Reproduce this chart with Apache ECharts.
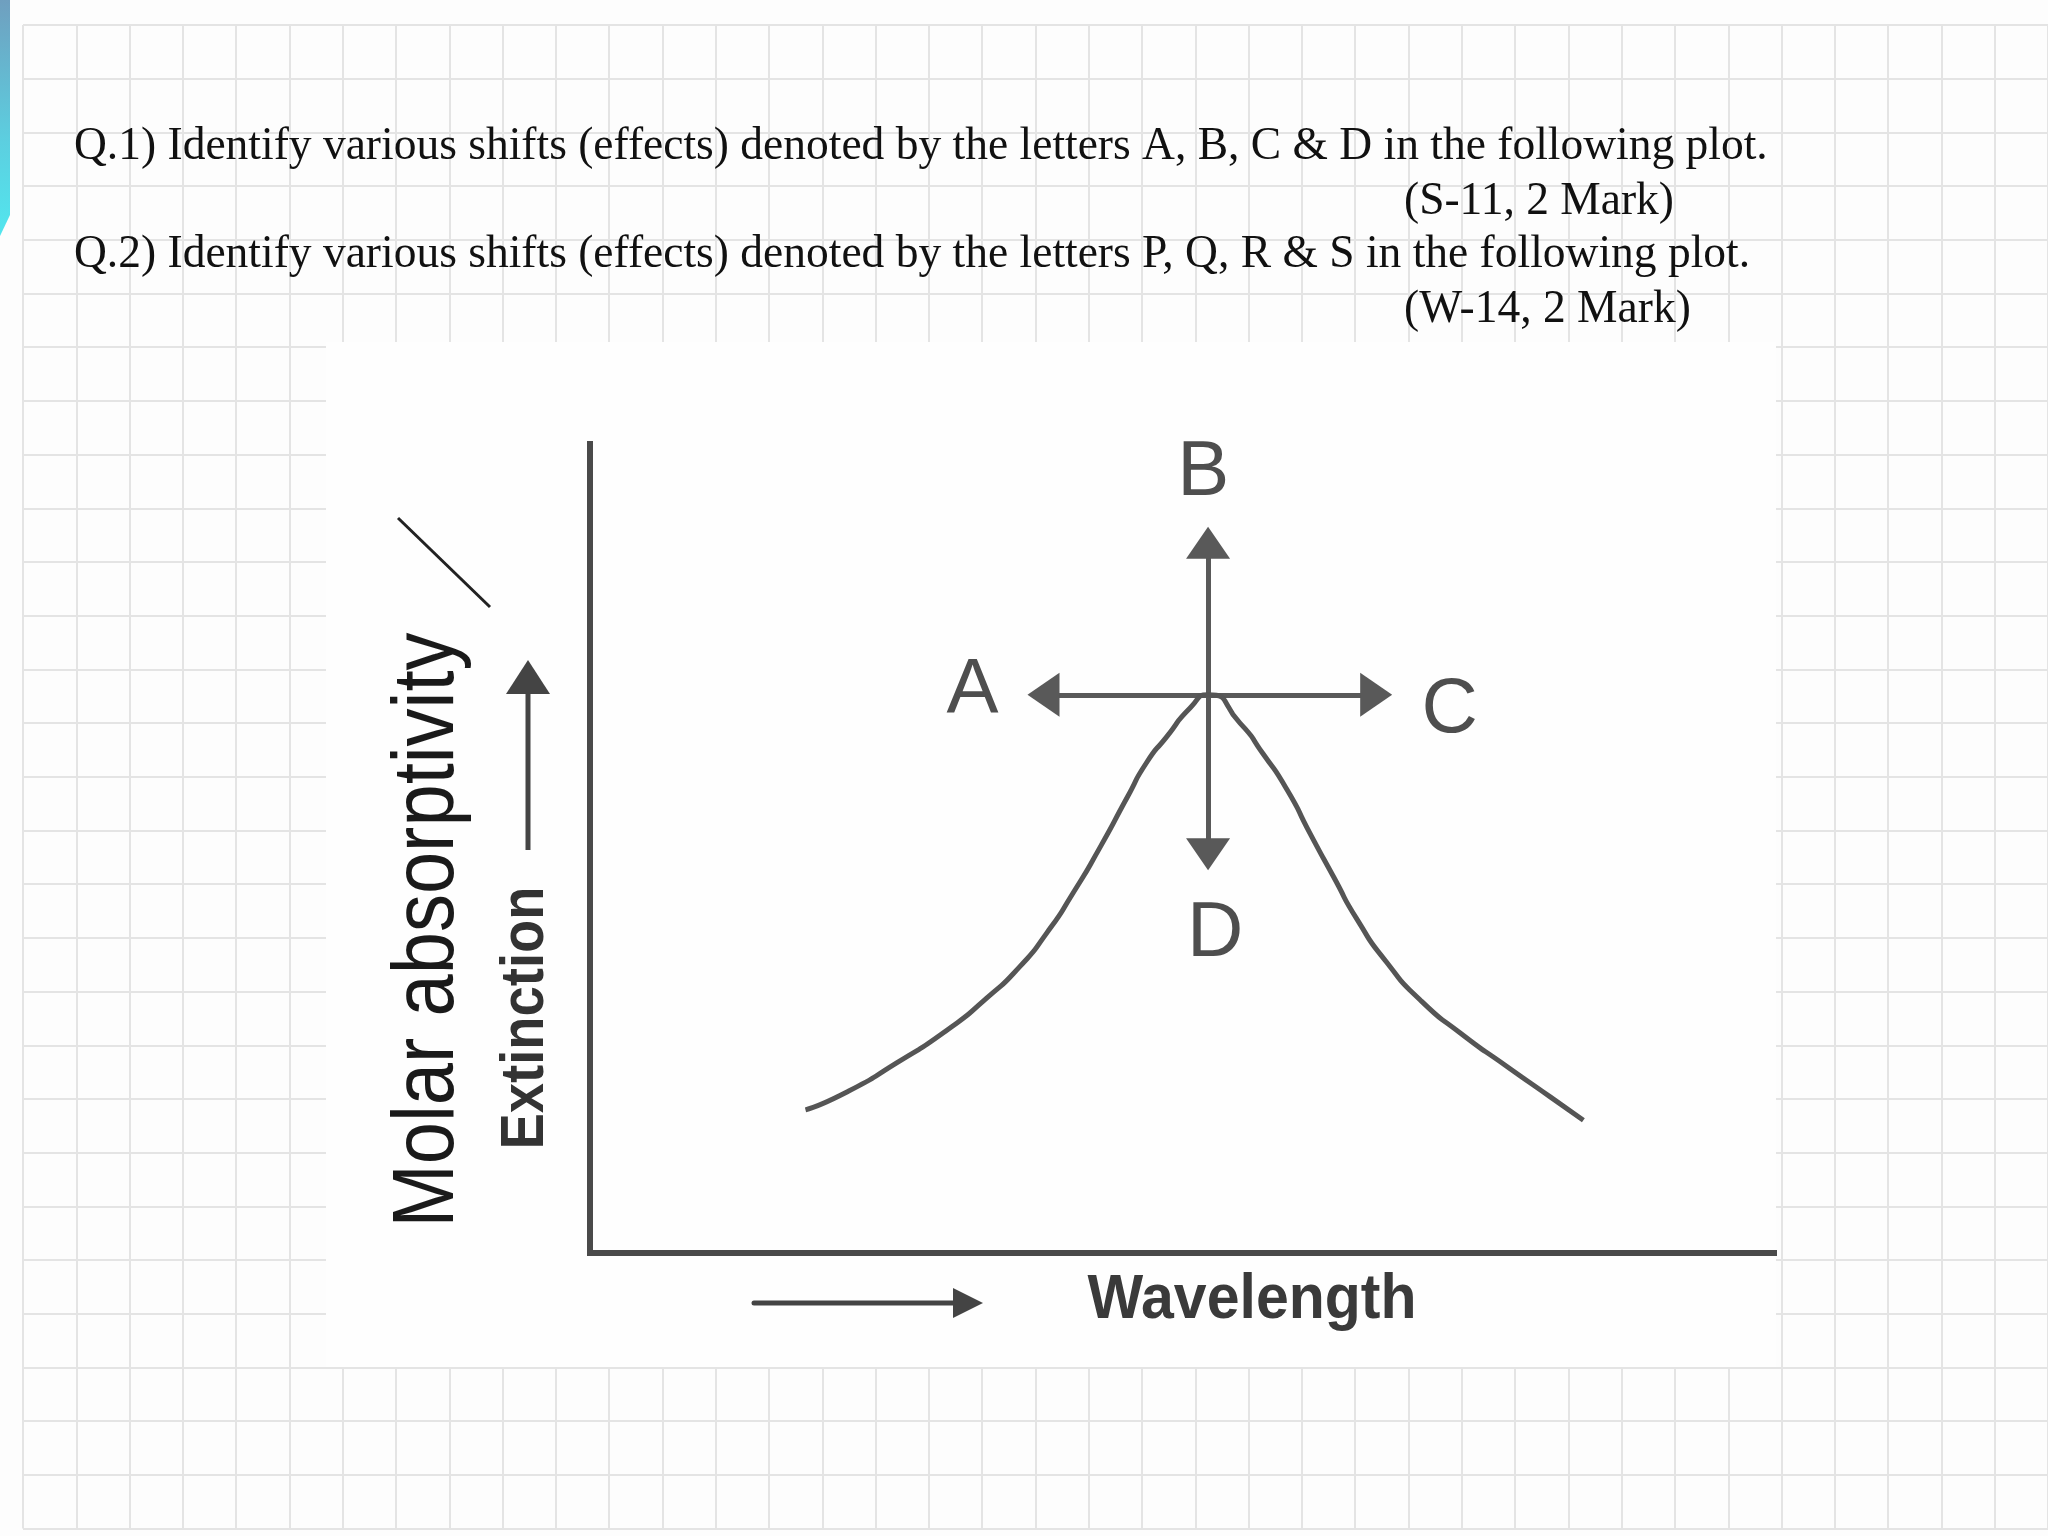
<!DOCTYPE html>
<html><head><meta charset="utf-8">
<script src="https://cdn.jsdelivr.net/npm/echarts@6/dist/echarts.min.js"></script>
<style>html,body{margin:0;padding:0;background:#fdfdfd}#c{width:2048px;height:1536px}</style>
</head><body><div id="c"></div>
<script>
// ---- text content ----
const questionLines = [
  'Q.1) Identify various shifts (effects) denoted by the letters A, B, C & D in the following plot.',
  '(S-11, 2 Mark)',
  'Q.2) Identify various shifts (effects) denoted by the letters P, Q, R & S in the following plot.',
  '(W-14, 2 Mark)'
];
const axisNames = ['Molar absorptivity', 'Extinction', 'Wavelength'];

// ---- absorption band (x: wavelength, y: extinction, arbitrary 0-100 units) ----
const bandX = [18.2, 21.7, 25.9, 30.2, 33.5, 36.3, 38.6, 40.8, 43.1, 45.4, 47.0, 48.7, 50.7, 52.2,
               54.9, 56.8, 58.9, 60.8, 62.8, 64.8, 67.3, 70.1, 73.5, 77.5, 81.1, 83.9];
const bandY = [17.7, 19.9, 23.5, 27.6, 31.5, 35.4, 39.6, 44.5, 50.2, 56.4, 60.6, 63.8, 67.4, 69.0,
               65.5, 61.8, 57.2, 51.9, 46.5, 41.2, 35.9, 31.3, 27.2, 23.0, 19.3, 16.4];

// ---- shift arrows from the band maximum ----
const arrowCenter = [52.2, 69.0];
const arrowEnds = [[52.2, 87.8], [52.2, 49.3], [38.3, 69.0], [66.4, 69.0]];
const shiftLetters = ['A', 'B', 'C', 'D'];
const letterX = [32.3, 51.8, 72.6, 52.8];
const letterY = [69.4, 96.3, 67.1, 39.4];

// ---- build ----
const bandData = bandX.map((x, i) => [x, bandY[i]]);
const letterData = shiftLetters.map((n, i) => ({ name: n, value: [letterX[i], letterY[i]] }));
const arrowLines = arrowEnds.map(e => [{ coord: arrowCenter }, { coord: e }]);

const mctx = document.createElement('canvas').getContext('2d');
function measure(font, text) { mctx.font = font; return mctx.measureText(text).width; }

const serifFont = '45.5px "Liberation Serif", "Times New Roman", serif';
const molarFont = '88px "Liberation Sans", Arial, sans-serif';
const extFont = 'bold 61px "Liberation Sans", Arial, sans-serif';
const waveFont = 'bold 63px "Liberation Sans", Arial, sans-serif';
const molarScale = 595 / measure(molarFont, axisNames[0]);
const extScale = 263 / measure(extFont, axisNames[1]);
const waveScale = 329 / measure(waveFont, axisNames[2]);

function txt(text, x, y, font, fill, align, extra) {
  return Object.assign({
    type: 'text', x: x, y: y, z: 3,
    style: { text: text, font: font, fill: fill, align: align, textAlign: align,
             verticalAlign: 'middle', textVerticalAlign: 'middle' }
  }, extra || {});
}

const qBase = [162, 217, 270, 325];
const qX = [74, 1404, 74, 1404];
const graphics = [
  { type: 'rect', z: 1, shape: { x: 326, y: 342, width: 1450, height: 1025 }, style: { fill: '#fefefe' } },
  { type: 'polygon', z: 1, shape: { points: [[0, 0], [10, 0], [10, 215], [0, 236]] },
    style: { fill: new echarts.graphic.LinearGradient(0, 0, 0, 1, [
      { offset: 0, color: '#6f9fbf' }, { offset: 0.6, color: '#5ccfe0' }, { offset: 1, color: '#52e6ee' }]) } }
];
questionLines.forEach((t, i) => graphics.push(txt(t, qX[i], qBase[i] - 15, serifFont, '#111', 'left')));
graphics.push(txt(axisNames[0], 429, 930, molarFont, '#1a1a1a', 'center', { rotation: Math.PI / 2, scaleX: molarScale }));
graphics.push(txt(axisNames[1], 526, 1018, extFont, '#333', 'center', { rotation: Math.PI / 2, scaleX: extScale }));
graphics.push(txt(axisNames[2], 1252, 1301, waveFont, '#3a3a3a', 'center', { scaleX: waveScale }));
// decorative arrows next to axis names
graphics.push({ type: 'line', z: 3, shape: { x1: 528, y1: 850, x2: 528, y2: 690 }, style: { stroke: '#444', lineWidth: 5 } });
graphics.push({ type: 'polygon', z: 3, shape: { points: [[528, 660], [506, 694], [550, 694]] }, style: { fill: '#444' } });
graphics.push({ type: 'line', z: 3, shape: { x1: 754, y1: 1303, x2: 958, y2: 1303 }, style: { stroke: '#444', lineWidth: 5, lineCap: 'round' } });
graphics.push({ type: 'polygon', z: 3, shape: { points: [[983, 1303], [953, 1288], [953, 1318]] }, style: { fill: '#444' } });
graphics.push({ type: 'line', z: 3, shape: { x1: 398, y1: 518, x2: 490, y2: 607 }, style: { stroke: '#222', lineWidth: 3 } });

const chart = echarts.init(document.getElementById('c'), null, { renderer: 'canvas' });
chart.setOption({
  animation: false,
  backgroundColor: '#fdfdfd',
  grid: [
    { left: 590, top: 444, width: 1184, height: 809 },
    { left: 23, top: 25, width: 53.7 * 38, height: 53.7 * 28 }
  ],
  xAxis: [
    { type: 'value', gridIndex: 0, min: 0, max: 100, z: 5,
      axisLine: { show: true, lineStyle: { color: '#4a4a4a', width: 6, cap: 'square' } },
      axisTick: { show: false }, axisLabel: { show: false }, splitLine: { show: false } },
    { type: 'value', gridIndex: 1, min: 0, max: 38, interval: 1, z: 0,
      axisLine: { show: false }, axisTick: { show: false }, axisLabel: { show: false },
      splitLine: { show: true, lineStyle: { color: '#e4e4e4', width: 2 } } }
  ],
  yAxis: [
    { type: 'value', gridIndex: 0, min: 0, max: 100, z: 5,
      axisLine: { show: true, lineStyle: { color: '#4a4a4a', width: 6, cap: 'square' } },
      axisTick: { show: false }, axisLabel: { show: false }, splitLine: { show: false } },
    { type: 'value', gridIndex: 1, min: 0, max: 28, interval: 1, z: 0, inverse: true,
      axisLine: { show: false }, axisTick: { show: false }, axisLabel: { show: false },
      splitLine: { show: true, lineStyle: { color: '#e4e4e4', width: 2 } } }
  ],
  graphic: { elements: graphics },
  series: [
    { type: 'line', xAxisIndex: 0, yAxisIndex: 0, z: 6, data: bandData, smooth: 0.7,
      showSymbol: false, symbol: 'none', lineStyle: { color: '#555', width: 5, join: 'round' },
      markLine: { silent: true, symbol: ['none', 'triangle'], symbolSize: [44, 32],
        label: { show: false }, lineStyle: { color: '#595959', width: 5, type: 'solid' },
        data: arrowLines } },
    { type: 'scatter', xAxisIndex: 0, yAxisIndex: 0, z: 6, data: letterData, symbolSize: 1,
      itemStyle: { color: 'rgba(0,0,0,0)' },
      label: { show: true, formatter: '{b}', position: 'inside', fontSize: 78,
        fontFamily: '"Liberation Sans", Arial, sans-serif', color: '#222' } }
  ]
});
</script></body></html>
